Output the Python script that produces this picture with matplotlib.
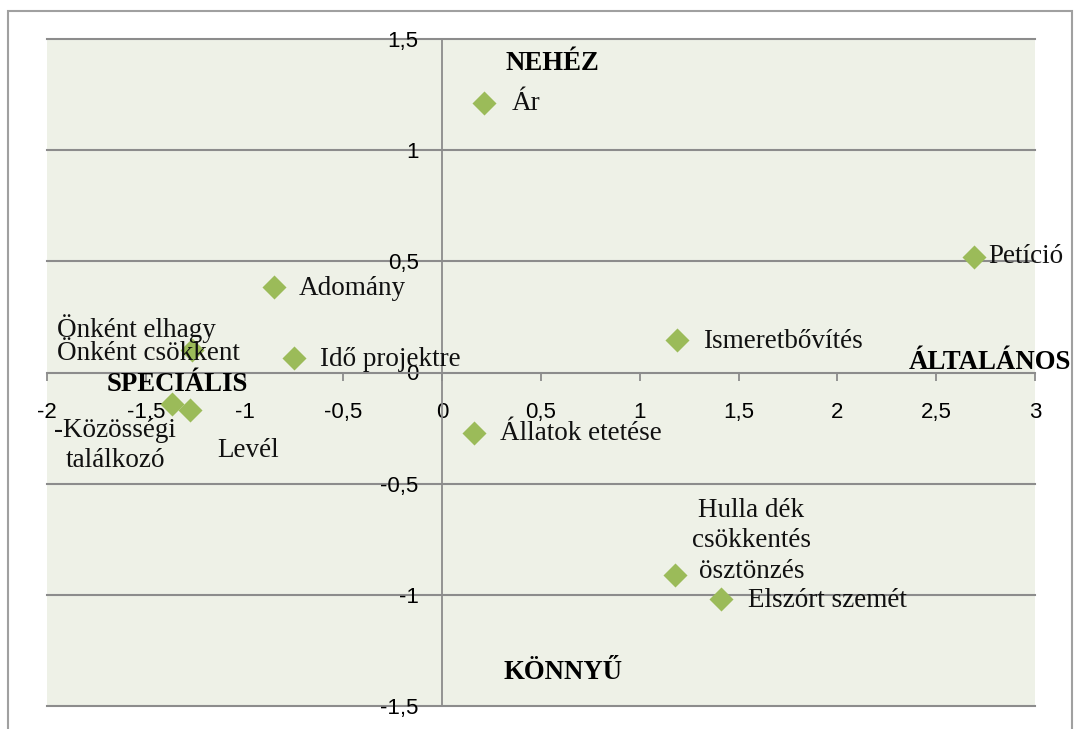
import numpy as np
import matplotlib
matplotlib.use('Agg')
from matplotlib import pyplot as plt
from matplotlib.patches import Rectangle

# data points (x, y)
x_vals = [0.21, 2.69, -0.85, -1.265, -0.75, 1.19, -1.366, -1.275, 0.16, 1.18, 1.41]
y_vals = [1.21, 0.52, 0.385, 0.10, 0.065, 0.146, -0.14, -0.17, -0.27, -0.91, -1.02]
labels = ['Ár', 'Petíció', 'Adomány', 'Önként elhagy\nÖnként csökkent', 'Idő projektre',
          'Ismeretbővítés', '-Közösségi\ntalálkozó', 'Levél', 'Állatok etetése',
          'Hulla dék\ncsökkentés\nösztönzés', 'Elszórt szemét']

xticks = [-2, -1.5, -1, -0.5, 0, 0.5, 1, 1.5, 2, 2.5, 3]
xtick_labels = ['-2', '-1,5', '-1', '-0,5', '0', '0,5', '1', '1,5', '2', '2,5', '3']
yticks = [-1.5, -1, -0.5, 0, 0.5, 1, 1.5]
ytick_labels = ['-1,5', '-1', '-0,5', '0', '0,5', '1', '1,5']

quad_names = ['NEHÉZ', 'KÖNNYŰ', 'SPECIÁLIS', 'ÁLTALÁNOS']
quad_x = [0.557, 0.61, -1.34, 2.77]
quad_y = [1.39, -1.35, -0.056, 0.047]

# label placement (pixel offsets from the point, alignment, line spacing)
lab_off = [(28, 0), (15, 0), (24, -2), (-135, 10), (26, -1), (26, -1),
           (-57, -42), (58, -40), (26, -1), (76, 34), (27, -1)]
lab_ha = ['left', 'left', 'left', 'left', 'left', 'left',
          'center', 'center', 'left', 'center', 'left']
lab_ls = [1, 1, 1, 0.92, 1, 1, 1.3, 1, 1, 1.3, 1]

serif = 'Liberation Serif'
sans = 'Liberation Sans'
grey = '#8c8c8c'

fig = plt.figure(figsize=(10.74, 7.29), dpi=100)
fig.patches.append(Rectangle((8/1074, -0.01), 1064/1074, 1 - 11/729 + 0.01,
                             transform=fig.transFigure, fill=False,
                             edgecolor='#a0a0a0', lw=1.5))
ax = fig.add_axes([47/1074, 1 - 706/729, 988/1074, 667/729])
ax.set_facecolor('#EEF1E7')

ax.set_xlim(-2, 3)
ax.set_ylim(-1.5, 1.5)
ax.set_xticks(xticks)
ax.set_xticklabels(xtick_labels)
ax.set_yticks(yticks)
ax.set_yticklabels(ytick_labels)

ax.spines['left'].set_position(('data', 0))
ax.spines['bottom'].set_position(('data', 0))
ax.spines['top'].set_visible(False)
ax.spines['right'].set_visible(False)
for s in ['left', 'bottom']:
    ax.spines[s].set_color(grey)
    ax.spines[s].set_linewidth(1.3)

ax.tick_params(axis='x', direction='out', length=6, width=1.3, color=grey, pad=15,
               labelsize=16, labelfontfamily=sans)
ax.tick_params(axis='y', length=0, pad=17, labelsize=16, labelfontfamily=sans)
ax.grid(axis='y', color=grey, lw=1.5)
ax.set_axisbelow(True)
for gl in ax.get_ygridlines():
    gl.set_clip_on(False)

ax.scatter(x_vals, y_vals, marker='D', s=150, color='#9BBB59', zorder=3, linewidths=0)

for i, lab in enumerate(labels):
    ax.annotate(lab, (x_vals[i], y_vals[i]), xytext=lab_off[i], textcoords='offset pixels',
                ha=lab_ha[i], va='center', fontsize=19.5, family=serif,
                linespacing=lab_ls[i], color='#111111', zorder=4)

for name, qx, qy in zip(quad_names, quad_x, quad_y):
    ax.text(qx, qy, name, ha='center', va='center', fontsize=19.3,
            fontweight='bold', family=serif, zorder=4)

fig.savefig('out.png', dpi=100)
